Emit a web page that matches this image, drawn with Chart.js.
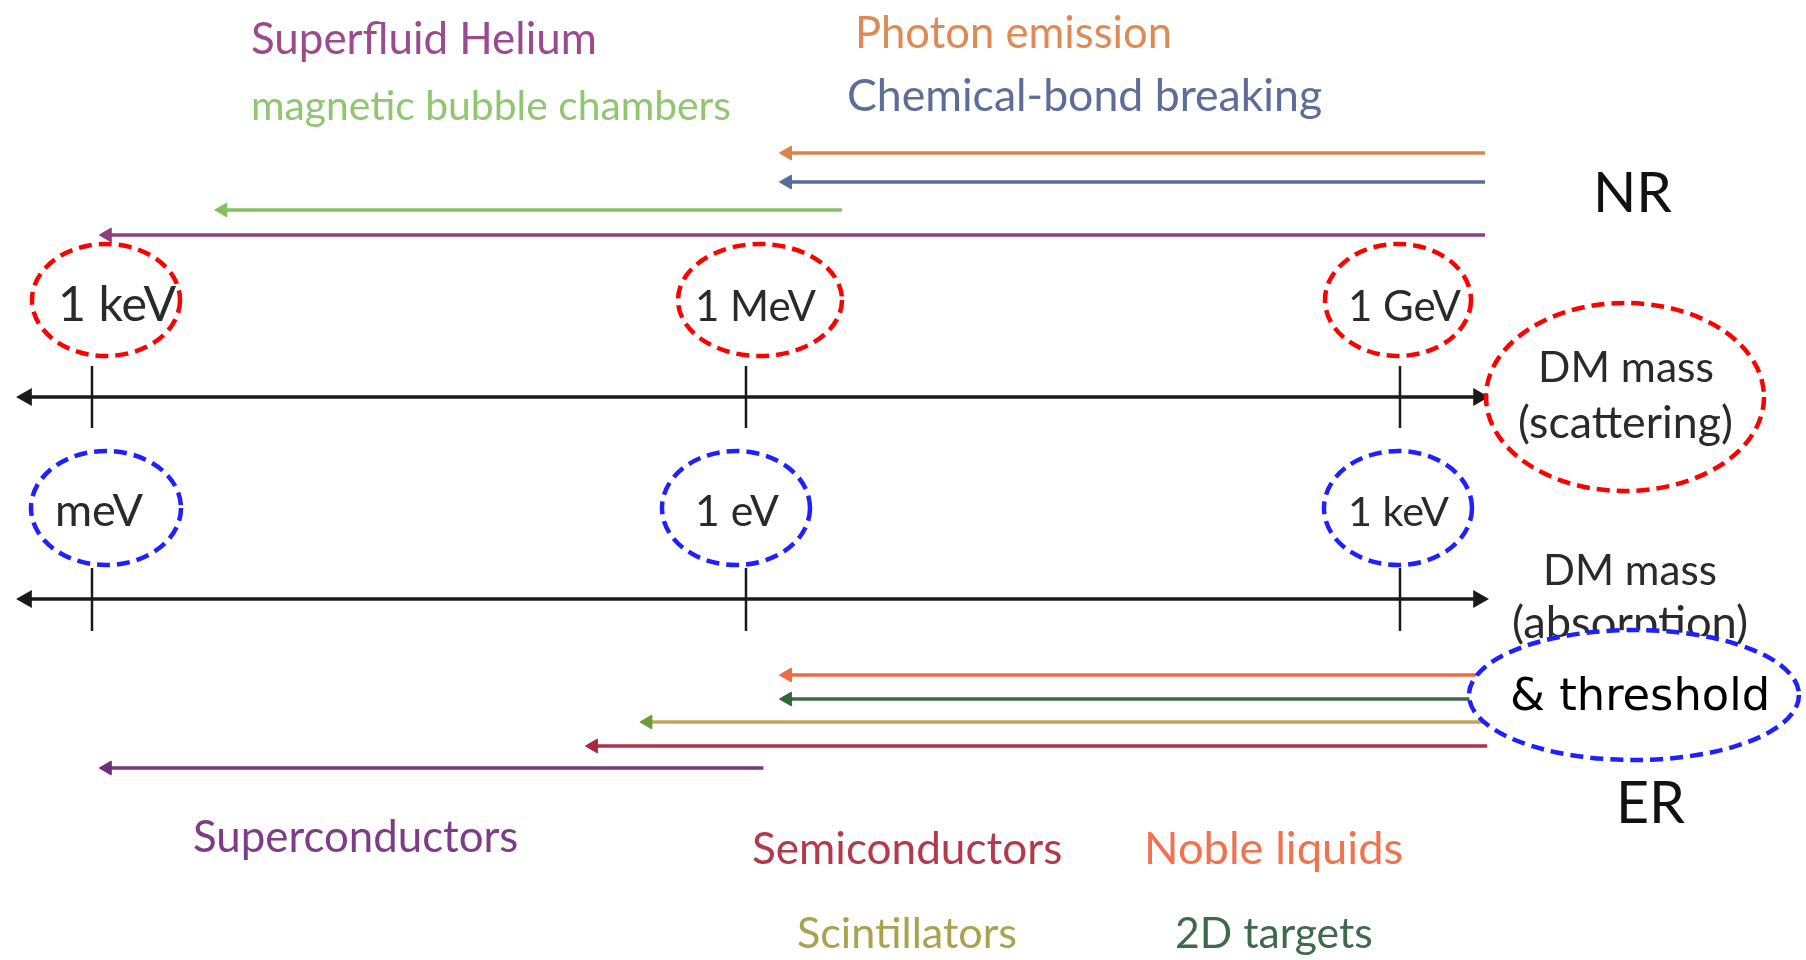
<!DOCTYPE html>
<html>
<head>
<meta charset="utf-8">
<script src="https://cdn.jsdelivr.net/npm/chart.js@4/dist/chart.umd.min.js"></script>
<style>
  html, body { margin: 0; padding: 0; background: #fff; }
  #wrap { width: 1806px; height: 960px; position: relative; }
</style>
</head>
<body>
<div id="wrap"><canvas id="massChart"></canvas></div>
<script>
// DM mass axes, log10(m / eV)
const scatTicks = [3, 6, 9];
const scatTickLabels = ['1 keV', '1 MeV', '1 GeV'];
const absTicks = [-3, 0, 3];
const absTickLabels = ['meV', '1 eV', '1 keV'];
const scatAxisRange = [2.70, 9.36];
const absAxisRange = [-3.30, 3.36];

// nuclear recoil (scattering mass reach)
const nrMethods = ['Photon emission', 'Chemical-bond breaking', 'magnetic bubble chambers', 'Superfluid Helium'];
const nrLow = [6.19, 6.19, 3.60, 3.07];
const nrHigh = [9.39, 9.39, 6.44, 9.39];

// electron recoil (absorption mass & threshold)
const erMethods = ['Noble liquids', '2D targets', 'Scintillators', 'Semiconductors', 'Superconductors'];
const erLow = [0.19, 0.19, -0.45, -0.70, -2.93];
const erHigh = [3.39, 3.39, 3.39, 3.40, 0.08];

// styles
const nrLineColors = ['#d8844a', '#566c9c', '#84c060', '#8b3f7f'];
const nrTextColors = ['#de8a55', '#5e6c9a', '#90c670', '#9c4a8e'];
const erLineColors = ['#ee6a45', '#3d6a45', '#c4a45a', '#b22e44', '#7a3585'];
const erHeadColors = ['#ee6a45', '#2f6a3a', '#6d9a3a', '#a82840', '#6e2f7a'];
const erTextColors = ['#f0724f', '#3e6a4b', '#a9a24e', '#b23a4c', '#7c3d86'];

// layout (pixels)
const X_MIN = 2.578, PX_PER_DEC = 218;
const nrRows = [153, 182, 210, 235];
const erRows = [675, 699, 722, 746, 768];
const scatAxisY = 397, scatTickY = [366, 428];
const absAxisY = 599, absTickY = [568, 631];

// [left, baseline, width]
const textLayout = {
  'Superfluid Helium': [251, 54, 346],
  'magnetic bubble chambers': [251, 120, 480],
  'Photon emission': [855, 48, 317],
  'Chemical-bond breaking': [847, 111, 475],
  'Superconductors': [193, 852, 325],
  'Semiconductors': [752, 864, 310],
  'Noble liquids': [1144, 864, 259],
  'Scintillators': [797, 948, 220],
  '2D targets': [1175, 948, 198]
};
const scatLabelPos = [[58, 321, 118], [695, 321, 121], [1348, 321, 113]];
const absLabelPos = [[55, 526, 88], [695, 526, 84], [1348, 526, 101]];
const scatEll = [[14, 74], [14, 82], [-2, 73]];
const absEll = [[14, 75], [-10, 74], [-2, 74]];

const datasets = [];

function arrow(axis, low, high, y, color, head) {
  return {
    xAxisID: axis,
    data: [{x: high, y: y}, {x: low, y: y}],
    borderColor: color,
    borderWidth: 3.5,
    pointRadius: [0, 8],
    pointStyle: 'triangle',
    pointRotation: [0, -90],
    pointBackgroundColor: head,
    pointBorderColor: head,
    pointBorderWidth: 1,
    tension: 0
  };
}

function axisLine(axis, range, y) {
  return {
    xAxisID: axis,
    data: [{x: range[0], y: y}, {x: range[1], y: y}],
    borderColor: '#1a1a1a',
    borderWidth: 3.5,
    pointRadius: 7,
    pointStyle: 'triangle',
    pointRotation: [-90, 90],
    pointBackgroundColor: '#1a1a1a',
    pointBorderColor: '#1a1a1a',
    tension: 0
  };
}

function tickLine(axis, v, ys) {
  return {
    xAxisID: axis,
    data: [{x: v, y: ys[0]}, {x: v, y: ys[1]}],
    borderColor: '#1a1a1a',
    borderWidth: 2.5,
    pointRadius: 0
  };
}

nrMethods.forEach((m, i) => {
  datasets.push(arrow('xs', nrLow[i], nrHigh[i], nrRows[i], nrLineColors[i], nrLineColors[i]));
});
erMethods.forEach((m, i) => {
  datasets.push(arrow('xa', erLow[i], erHigh[i], erRows[i], erLineColors[i], erHeadColors[i]));
});
datasets.push(axisLine('xs', scatAxisRange, scatAxisY));
datasets.push(axisLine('xa', absAxisRange, absAxisY));
scatTicks.forEach(v => datasets.push(tickLine('xs', v, scatTickY)));
absTicks.forEach(v => datasets.push(tickLine('xa', v, absTickY)));

function fitText(ctx, text, left, base, width, family, color) {
  ctx.font = '400 100px ' + family;
  const size = 100 * width / ctx.measureText(text).width;
  ctx.font = '400 ' + size.toFixed(1) + 'px ' + family;
  ctx.fillStyle = color;
  ctx.textAlign = 'left';
  ctx.textBaseline = 'alphabetic';
  ctx.fillText(text, left, base);
}

function dashedEllipse(ctx, cx, cy, rx, ry, color, fill) {
  ctx.save();
  ctx.beginPath();
  ctx.ellipse(cx, cy, rx, ry, 0, 0, Math.PI * 2);
  if (fill) {
    ctx.fillStyle = fill;
    ctx.fill();
  }
  ctx.setLineDash([13, 7]);
  ctx.lineWidth = 4.5;
  ctx.strokeStyle = color;
  ctx.stroke();
  ctx.restore();
}

const annotations = {
  id: 'annotations',
  afterDatasetsDraw(chart) {
    const ctx = chart.ctx;
    const xs = chart.scales.xs, xa = chart.scales.xa;
    ctx.save();

    nrMethods.forEach((m, i) => {
      const p = textLayout[m];
      fitText(ctx, m, p[0], p[1], p[2], 'Lato', nrTextColors[i]);
    });
    erMethods.forEach((m, i) => {
      const p = textLayout[m];
      fitText(ctx, m, p[0], p[1], p[2], 'Lato', erTextColors[i]);
    });

    scatTickLabels.forEach((t, i) => {
      const p = scatLabelPos[i];
      fitText(ctx, t, p[0], p[1], p[2], 'Lato', '#2a2a2a');
    });
    absTickLabels.forEach((t, i) => {
      const p = absLabelPos[i];
      fitText(ctx, t, p[0], p[1], p[2], 'Lato', '#2a2a2a');
    });

    fitText(ctx, 'NR', 1593, 212, 79, 'Lato', '#111');
    fitText(ctx, 'DM mass', 1538, 382, 176, 'Lato', '#2a2a2a');
    fitText(ctx, '(scattering)', 1518, 438, 215, 'Lato', '#2a2a2a');
    fitText(ctx, 'DM mass', 1543, 585, 174, 'Lato', '#2a2a2a');
    fitText(ctx, '(absorption)', 1512, 638, 236, 'Lato', '#2a2a2a');
    fitText(ctx, 'ER', 1616, 823, 69, 'Lato', '#111');

    // red: scattering mass, blue: absorption mass / threshold
    scatTicks.forEach((v, i) => {
      dashedEllipse(ctx, xs.getPixelForValue(v) + scatEll[i][0], 300, scatEll[i][1], 56, '#ff0000');
    });
    absTicks.forEach((v, i) => {
      dashedEllipse(ctx, xa.getPixelForValue(v) + absEll[i][0], 508, absEll[i][1], 57, '#1f1fff');
    });
    dashedEllipse(ctx, 1625, 397, 139, 94, '#ff0000');
    dashedEllipse(ctx, 1634, 695, 165, 65, '#1f1fff', '#ffffff');
    fitText(ctx, '& threshold', 1510, 710, 260, 'DejaVu Sans', '#000');

    ctx.restore();
  }
};

const X_MAX = X_MIN + 1806 / PX_PER_DEC;

new Chart(document.getElementById('massChart'), {
  type: 'line',
  data: { datasets: datasets },
  options: {
    responsive: true,
    maintainAspectRatio: false,
    animation: false,
    events: [],
    layout: { padding: 0, autoPadding: false },
    plugins: { legend: { display: false }, tooltip: { enabled: false } },
    elements: { line: { tension: 0 } },
    scales: {
      xs: { type: 'linear', axis: 'x', min: X_MIN, max: X_MAX, display: false },
      xa: { type: 'linear', axis: 'x', min: X_MIN - 6, max: X_MAX - 6, display: false },
      y: { type: 'linear', min: 0, max: 960, reverse: true, display: false }
    }
  },
  plugins: [annotations]
});
</script>
</body>
</html>
